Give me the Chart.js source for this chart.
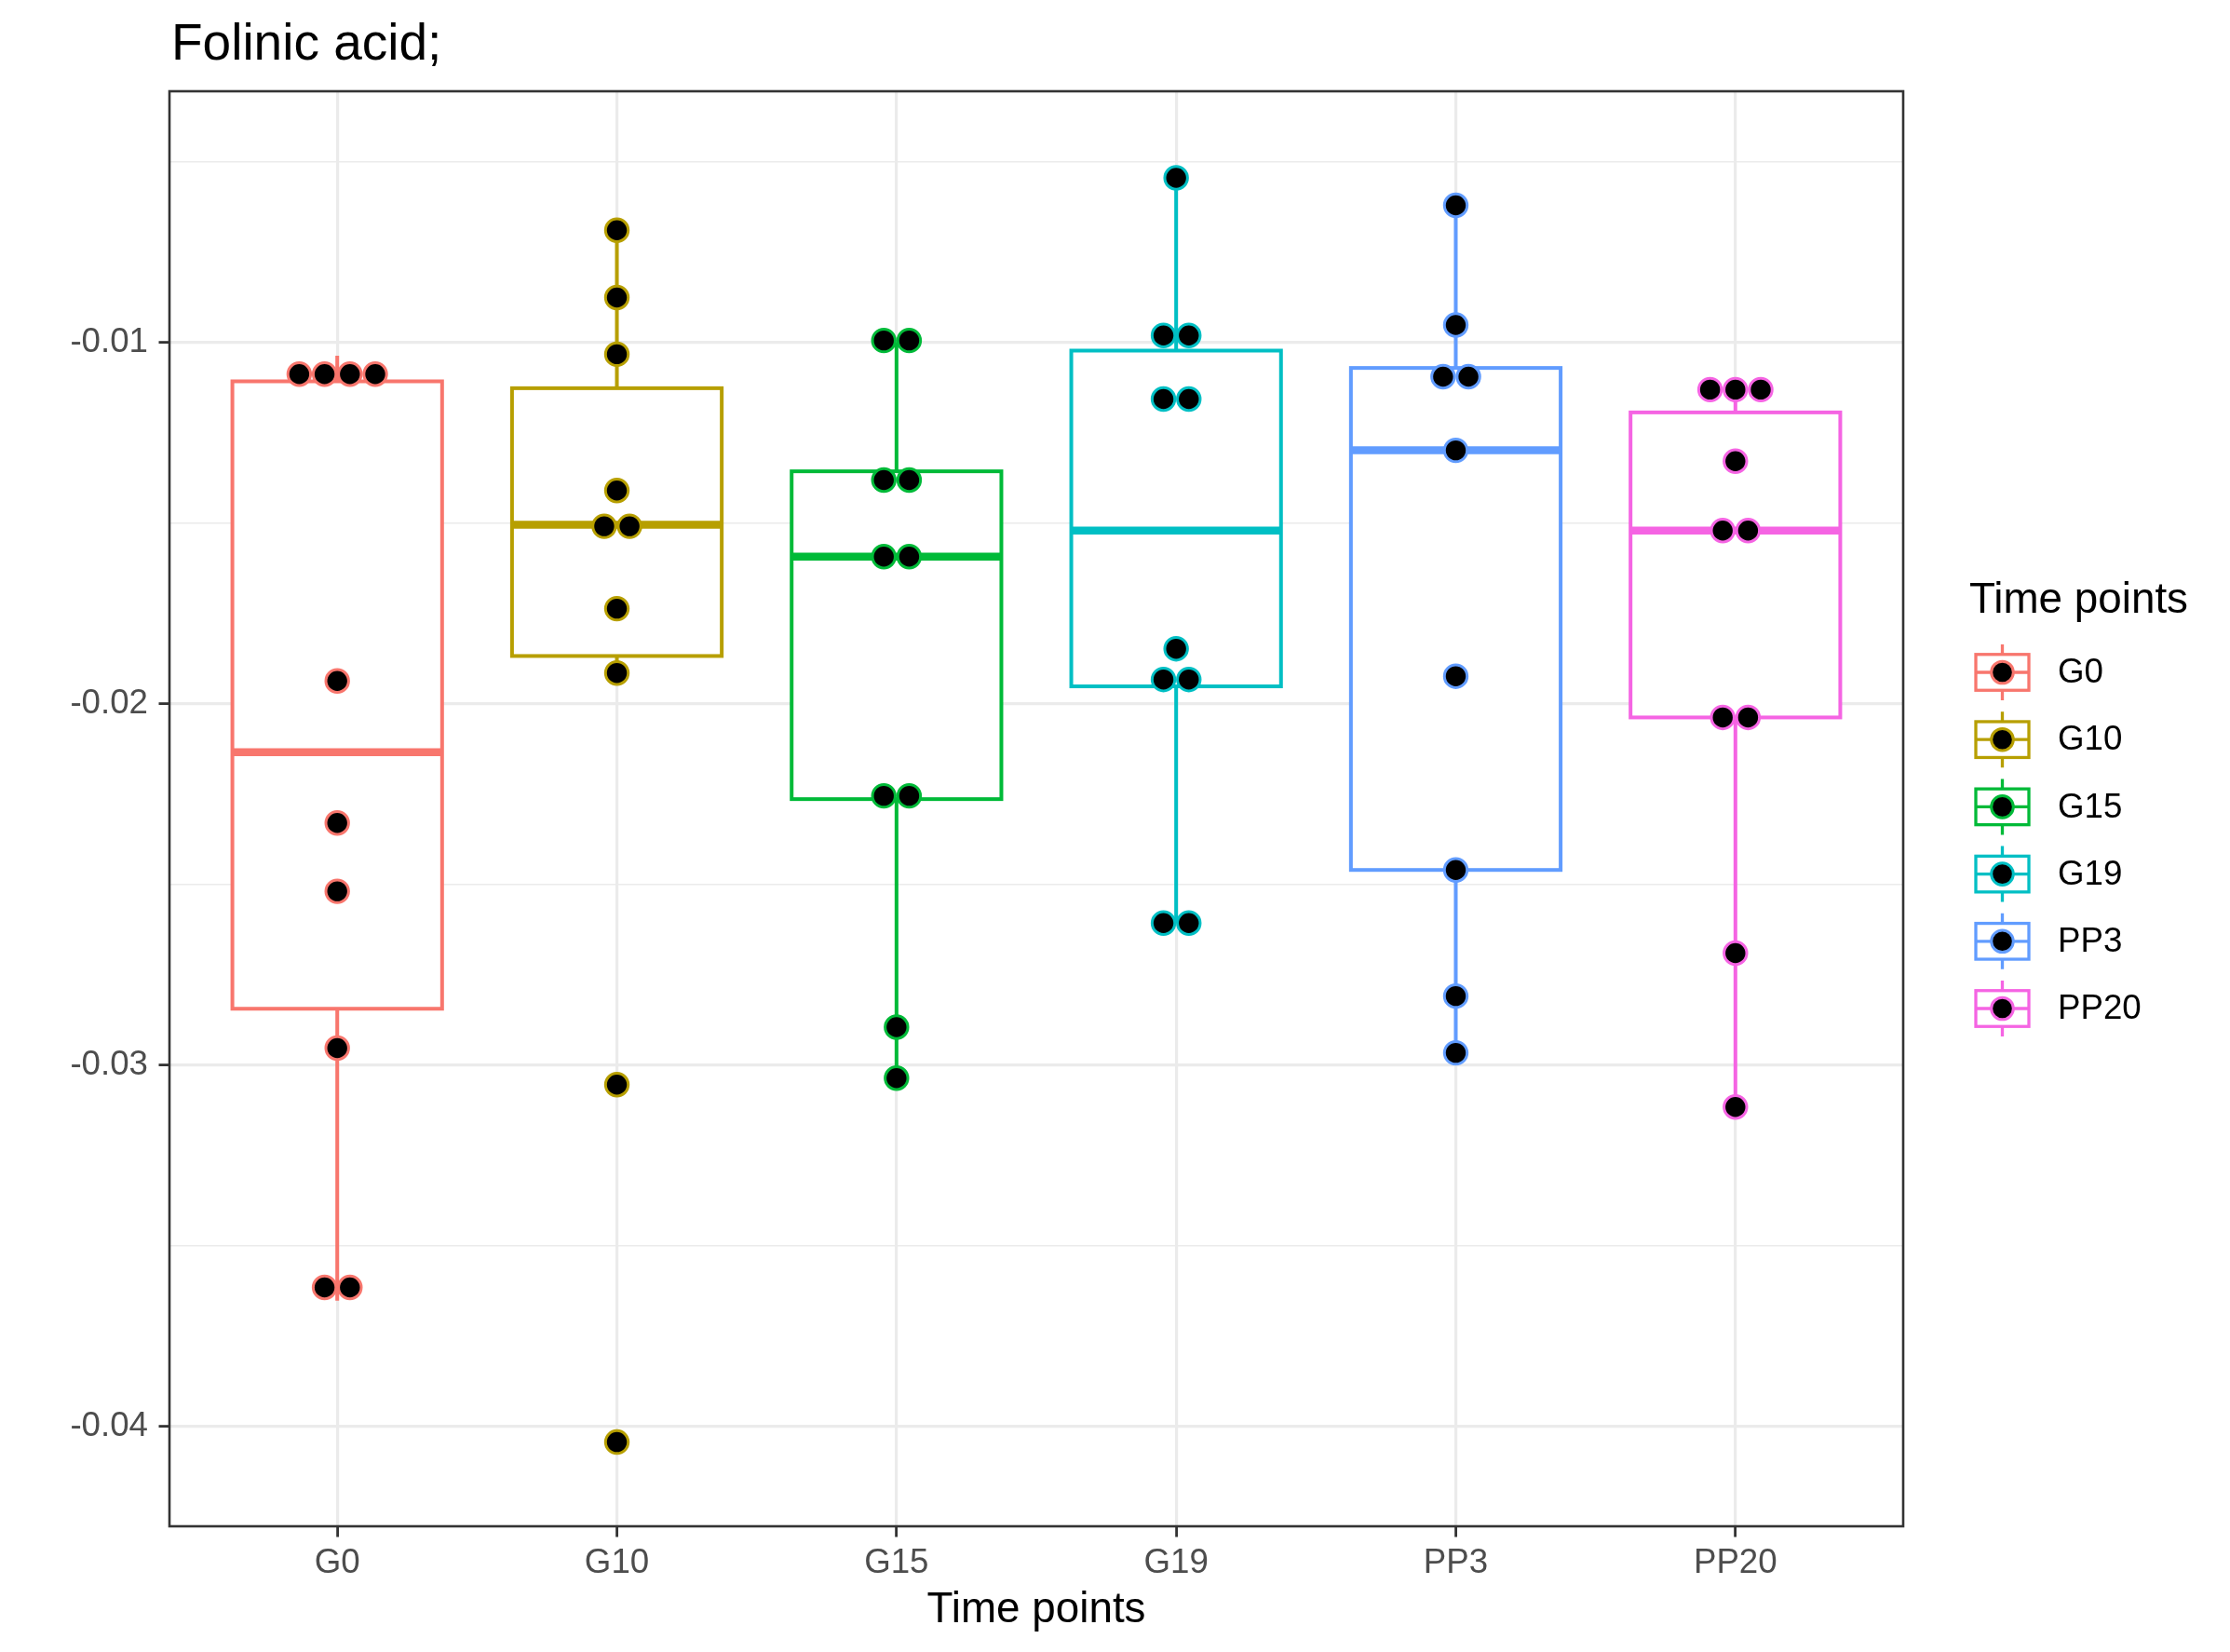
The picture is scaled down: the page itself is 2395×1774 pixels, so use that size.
<!DOCTYPE html>
<html>
<head>
<meta charset="utf-8">
<script src="https://cdn.jsdelivr.net/npm/chart.js@4.4.0/dist/chart.umd.min.js"></script>
<style>
  html, body { margin: 0; padding: 0; background: #fff; }
  #wrap { width: 2395px; height: 1774px; }
</style>
</head>
<body>
<div id="wrap"><canvas id="box-chart"></canvas></div>
<script>
const timePoints = ["G0", "G10", "G15", "G19", "PP3", "PP20"];
const groupColors = ["#F8766D", "#B79F00", "#00BA38", "#00BFC4", "#619CFF", "#F564E3"];

// box statistics
const whiskerHigh = [-0.01037, -0.00690, -0.01000, -0.00545, -0.00621, -0.01131];
const q3          = [-0.01108, -0.01127, -0.01357, -0.01023, -0.01071, -0.01194];
const median      = [-0.02134, -0.01505, -0.01593, -0.01521, -0.01299, -0.01521];
const q1          = [-0.02844, -0.01868, -0.02264, -0.01952, -0.02460, -0.02038];
const whiskerLow  = [-0.03652, -0.01915, -0.03036, -0.02607, -0.02966, -0.03116];

// individual samples (dot plot)
const dotsG0   = [-0.01088, -0.01088, -0.01088, -0.01088, -0.01937, -0.02330, -0.02519, -0.02953, -0.03615, -0.03615];
const dotsG10  = [-0.00690, -0.00876, -0.01033, -0.01410, -0.01509, -0.01509, -0.01737, -0.01915, -0.03054, -0.04043];
const dotsG15  = [-0.00995, -0.00995, -0.01381, -0.01381, -0.01593, -0.01593, -0.02255, -0.02255, -0.02895, -0.03036];
const dotsG19  = [-0.00545, -0.00981, -0.00981, -0.01157, -0.01157, -0.01848, -0.01933, -0.01933, -0.02607, -0.02607];
const dotsPP3  = [-0.00621, -0.00952, -0.01095, -0.01095, -0.01299, -0.01924, -0.02460, -0.02809, -0.02966];
const dotsPP20 = [-0.01131, -0.01131, -0.01131, -0.01329, -0.01521, -0.01521, -0.02038, -0.02038, -0.02690, -0.03116];
const allDots = [dotsG0, dotsG10, dotsG15, dotsG19, dotsPP3, dotsPP20];

const yGrid = [-0.04, -0.035, -0.03, -0.025, -0.02, -0.015, -0.01, -0.005];

const FONT = '"Liberation Sans", Arial, Helvetica, sans-serif';
const boxWidth = 0.75;
const dotStep = 0.0906; // one dot diameter in category units

const isMajor = v => Math.abs(v * 100 - Math.round(v * 100)) < 1e-6;

// spread equal values side by side, centred on the category
const dotPoints = (vals, i) => {
  const counts = {};
  vals.forEach(v => counts[v] = (counts[v] || 0) + 1);
  const seen = {};
  return vals.map(v => {
    const k = seen[v] || 0;
    seen[v] = k + 1;
    return { x: i + (k - (counts[v] - 1) / 2) * dotStep, y: v };
  });
};

const boxPlugin = {
  id: 'boxes',
  beforeDatasetsDraw(chart) {
    const { ctx, scales: { x, y } } = chart;
    ctx.save();
    timePoints.forEach((tp, i) => {
      const cx = x.getPixelForValue(i);
      const left = x.getPixelForValue(i - boxWidth / 2);
      const right = x.getPixelForValue(i + boxWidth / 2);
      const top = y.getPixelForValue(q3[i]);
      const bot = y.getPixelForValue(q1[i]);
      const ym = y.getPixelForValue(median[i]);
      ctx.strokeStyle = groupColors[i];
      ctx.lineWidth = 4;
      ctx.beginPath();
      ctx.moveTo(cx, y.getPixelForValue(whiskerHigh[i]));
      ctx.lineTo(cx, top);
      ctx.moveTo(cx, bot);
      ctx.lineTo(cx, y.getPixelForValue(whiskerLow[i]));
      ctx.stroke();
      ctx.fillStyle = '#fff';
      ctx.fillRect(left, top, right - left, bot - top);
      ctx.strokeRect(left, top, right - left, bot - top);
      ctx.lineWidth = 8.5;
      ctx.beginPath();
      ctx.moveTo(left, ym);
      ctx.lineTo(right, ym);
      ctx.stroke();
    });
    ctx.restore();
  }
};

const framePlugin = {
  id: 'frame',
  afterDraw(chart) {
    const { ctx, chartArea: a } = chart;
    ctx.save();
    // panel border
    ctx.strokeStyle = '#333333';
    ctx.lineWidth = 2.6;
    ctx.strokeRect(a.left, a.top, a.right - a.left, a.bottom - a.top);

    // plot title
    ctx.fillStyle = '#000';
    ctx.font = '55px ' + FONT;
    ctx.textAlign = 'left';
    ctx.textBaseline = 'alphabetic';
    ctx.fillText('Folinic acid;', a.left + 2, 64);

    // legend
    const lx = a.right + 71;
    ctx.font = '45.8px ' + FONT;
    ctx.textBaseline = 'middle';
    ctx.fillText('Time points', lx, 645);
    ctx.font = '36.7px ' + FONT;
    timePoints.forEach((tp, i) => {
      const cy = 722 + i * 72.2;
      const kx = lx + 7, kw = 57, kh = 38.5;
      const kc = kx + kw / 2;
      ctx.strokeStyle = groupColors[i];
      ctx.lineWidth = 3.3;
      ctx.beginPath();
      ctx.moveTo(kc, cy - 30); ctx.lineTo(kc, cy - kh / 2);
      ctx.moveTo(kc, cy + kh / 2); ctx.lineTo(kc, cy + 30);
      ctx.moveTo(kx, cy); ctx.lineTo(kx + kw, cy);
      ctx.stroke();
      ctx.strokeRect(kx, cy - kh / 2, kw, kh);
      ctx.beginPath();
      ctx.arc(kc, cy, 11.8, 0, Math.PI * 2);
      ctx.fillStyle = '#000';
      ctx.fill();
      ctx.lineWidth = 3;
      ctx.stroke();
      ctx.fillStyle = '#000';
      ctx.fillText(tp, lx + 95, cy + 1);
    });
    ctx.restore();
  }
};

new Chart(document.getElementById('box-chart'), {
  type: 'scatter',
  data: {
    datasets: allDots.map((vals, i) => ({
      label: timePoints[i],
      data: dotPoints(vals, i),
      backgroundColor: '#000000',
      borderColor: groupColors[i],
      borderWidth: 3,
      pointRadius: 12.2
    }))
  },
  options: {
    responsive: true,
    maintainAspectRatio: false,
    devicePixelRatio: 1,
    animation: false,
    events: [],
    layout: { padding: { left: 0, top: 98, right: 351, bottom: 0 } },
    plugins: {
      legend: { display: false },
      title: { display: false },
      tooltip: { enabled: false }
    },
    scales: {
      x: {
        type: 'linear',
        min: -0.6,
        max: 5.6,
        afterBuildTicks: s => { s.ticks = timePoints.map((t, i) => ({ value: i })); },
        afterFit: s => { s.height = 135; },
        border: { display: false },
        grid: {
          color: '#EBEBEB',
          lineWidth: 3.2,
          tickColor: '#333333',
          tickWidth: 2.8,
          tickLength: 11.5
        },
        ticks: {
          autoSkip: false,
          maxRotation: 0,
          padding: 6,
          color: '#4D4D4D',
          font: { family: FONT, size: 36.7 },
          callback: v => timePoints[v]
        },
        title: {
          display: true,
          text: 'Time points',
          color: '#000',
          font: { family: FONT, size: 45.8 },
          padding: { top: 0, bottom: 17 }
        }
      },
      y: {
        min: -0.04276,
        max: -0.003054,
        afterBuildTicks: s => { s.ticks = yGrid.map(v => ({ value: v })); },
        afterFit: s => { s.width = 182; },
        border: { display: false },
        grid: {
          color: '#EBEBEB',
          lineWidth: c => isMajor(c.tick.value) ? 3.2 : 1.6,
          tickColor: c => isMajor(c.tick.value) ? '#333333' : 'rgba(0,0,0,0)',
          tickWidth: 2.8,
          tickLength: 11.5
        },
        ticks: {
          padding: 11.5,
          color: '#4D4D4D',
          font: { family: FONT, size: 36.7 },
          callback: v => isMajor(v) ? v.toFixed(2) : ''
        }
      }
    }
  },
  plugins: [boxPlugin, framePlugin]
});
</script>
</body>
</html>
